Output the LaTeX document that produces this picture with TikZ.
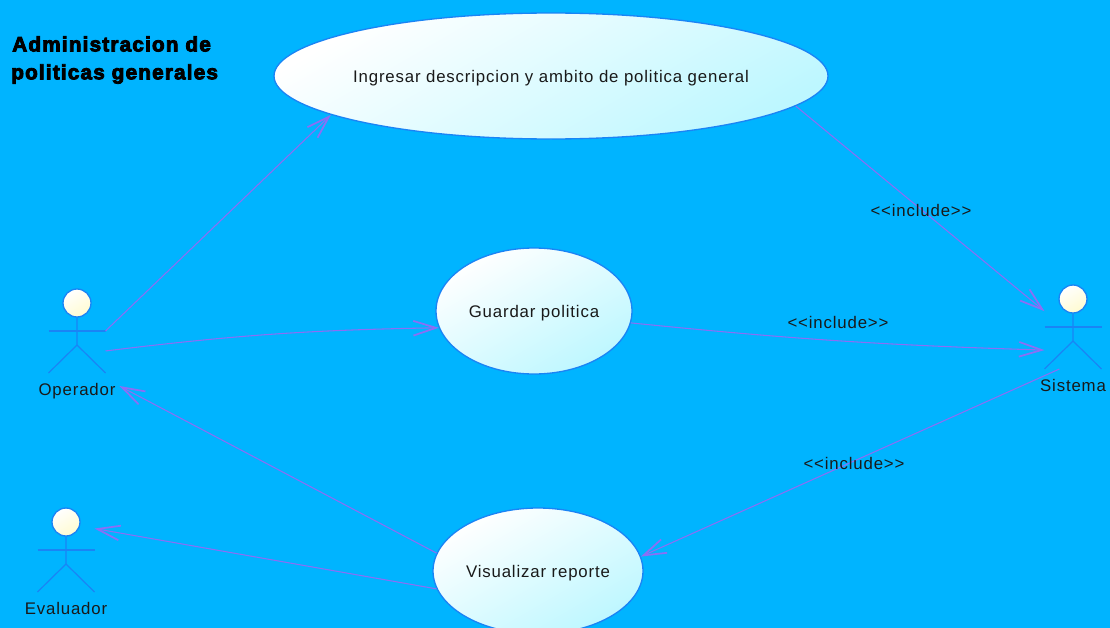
\documentclass[tikz,border=0pt]{standalone}
\usepackage{fontspec}
\setmainfont[LetterSpace=5,Ligatures=NoCommon]{Liberation Sans}
\newfontfamily\titlefont[FakeBold=4,LetterSpace=5.5]{Liberation Sans Bold}
\usetikzlibrary{shapes.geometric,arrows.meta,calc}
\definecolor{bgblue}{HTML}{00B4FF}
\definecolor{edgeblue}{HTML}{1A84F5}
\definecolor{linkviolet}{HTML}{8C6EF5}
\definecolor{caseend}{HTML}{BDF7FF}
\definecolor{headend}{HTML}{FFFBD0}
\newcommand{\myactor}[4]{%
  \node[actorhead] (#1head) at (#2,#3) {};
  \node[actorbox] (#1) at (#2,#3+28) {};
  \node[actorlabel] (#1label) at (#2,#3+86) {#4};
  \draw[actorline] (#1head.south) -- (#2,#3+42) -- (#1.south west);
  \draw[actorline] (#2,#3+42) -- (#1.south east);
  \draw[actorline] (#1.west) -- (#1.east);
}
\newcommand{\incl}{{<}{<}include{>}{>}}
\tikzset{
  x=0.75pt,y=-0.75pt,
  usecase/.style={ellipse,draw=edgeblue,line width=1pt,inner sep=0pt,
    top color=white,bottom color=caseend,shading angle=30,text depth=0pt,
    font=\fontsize{12.6pt}{14pt}\selectfont,text=black!90},
  actorhead/.style={circle,draw=edgeblue,line width=1pt,minimum size=21pt,inner sep=0pt,
    top color=white,bottom color=headend,shading angle=30},
  actorbox/.style={rectangle,inner sep=0pt,outer sep=0pt,minimum width=42.75pt,minimum height=63pt},
  actorlabel/.style={font=\fontsize{12.6pt}{14pt}\selectfont,text=black!90,inner sep=0pt,text depth=0pt},
  actorline/.style={draw=edgeblue,line width=0.9pt},
  link/.style={draw=linkviolet,line width=0.8pt,
    -{Straight Barb[length=17pt,width=11pt,line width=1.3pt]}},
  linklabel/.style={font=\fontsize{12.6pt}{14pt}\selectfont,text=black!90,inner sep=0pt},
  titletext/.style={font=\titlefont\fontsize{15.6pt}{18pt}\selectfont,text=black,inner sep=0pt,anchor=west},
}
\begin{document}
\begin{tikzpicture}
\useasboundingbox (0,0) rectangle (1110,628);
\clip (0,0) rectangle (1110,628);
\fill[bgblue] (0,0) rectangle (1110,628);
\node[titletext] (title1) at (12,44) {Administracion de};
\node[titletext] (title2) at (11,74) {politicas generales};
\node[usecase,minimum width=415.5pt,minimum height=94.5pt] (big) at (551,76) {\makebox[0pt]{Ingresar descripcion y ambito de politica general}};
\node[usecase,minimum width=147pt,minimum height=94.5pt] (guardar) at (534,311) {Guardar politica};
\node[usecase,minimum width=157.5pt,minimum height=94.5pt] (visual) at (538,571) {Visualizar reporte};
\myactor{op}{77}{303}{Operador}
\myactor{sis}{1073}{299}{Sistema}
\myactor{eva}{66}{522}{Evaluador}
\draw[link] (op.east) to (big.190.4);
\draw[link] (op.-35) to[bend left=3] (guardar.190.2);
\draw[link] (guardar.353) to[bend right=2] (sis.219.5);
\draw[link] (big.353.4) -- (sis.151.5);
\draw[link] (sis.252.4) -- (visual.8.2);
\draw[link] (visual.170) -- ($(op.south east)+(14,13)$);
\draw[link] (visual.190.5) -- (eva.37.5);
\node[linklabel] (inc1) at (921,210) {\incl};
\node[linklabel] (inc2) at (838,322) {\incl};
\node[linklabel] (inc3) at (854,463) {\incl};
\end{tikzpicture}
\end{document}
